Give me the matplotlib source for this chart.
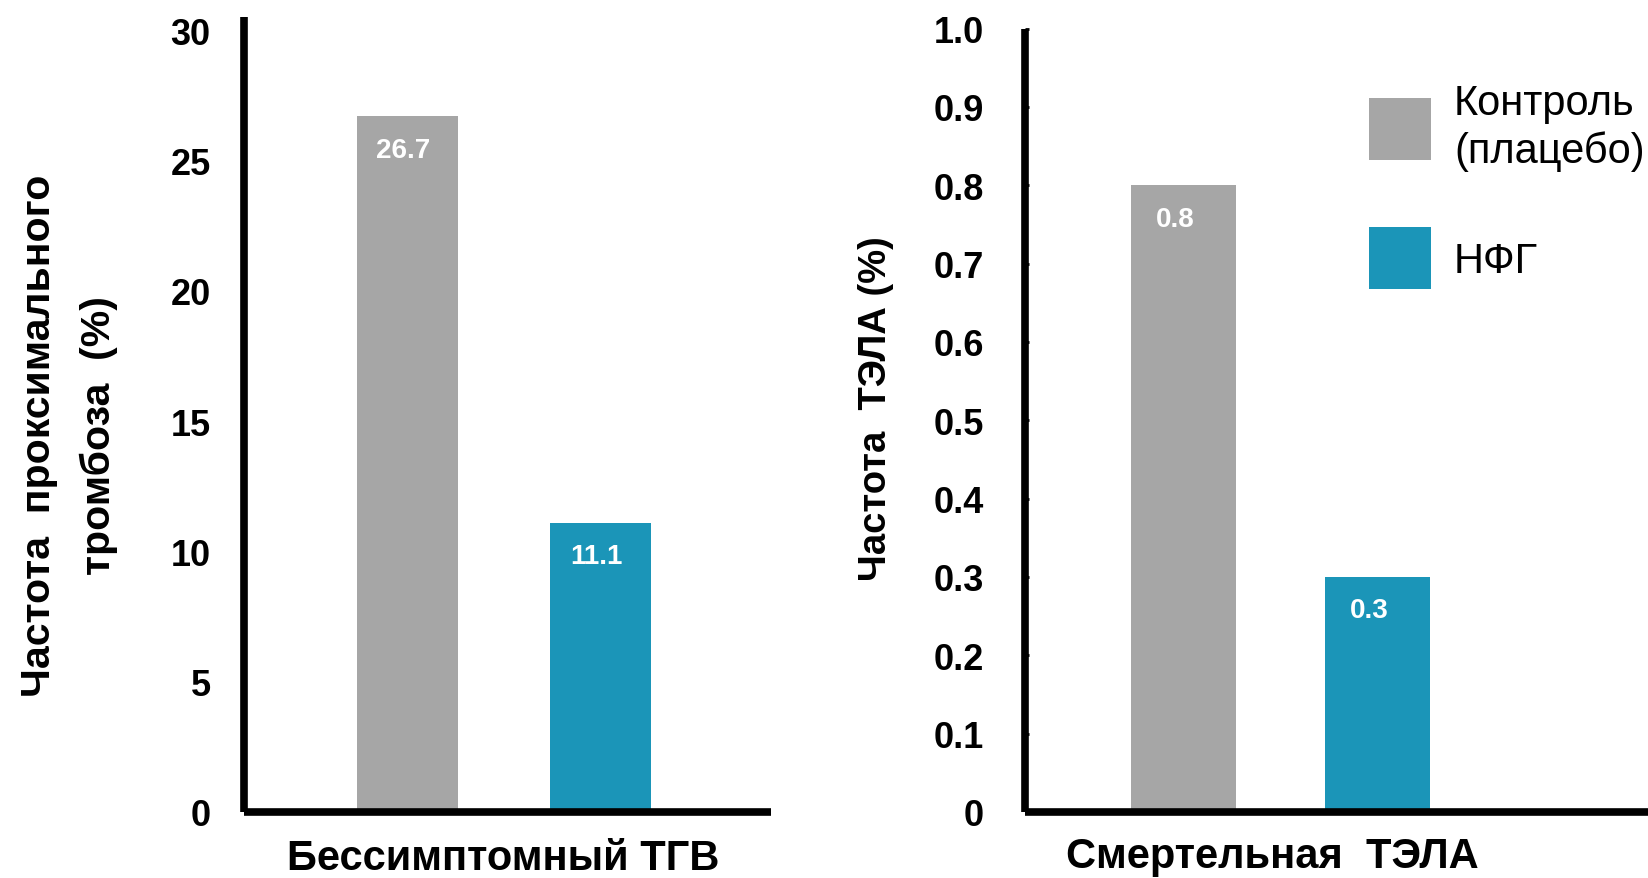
import matplotlib.pyplot as plt

plt.rcParams['font.family'] = ['Liberation Sans', 'DejaVu Sans']
narrow = ['Liberation Sans Narrow', 'Liberation Sans', 'DejaVu Sans']

groups = ["Контроль\n(плацебо)", "НФГ"]
colors = ["#A6A6A6", "#1B95B8"]

dvt_values = [26.7, 11.1]
dvt_labels = ["26.7", "11.1"]
pe_values = [0.8, 0.3]
pe_labels = ["0.8", "0.3"]

left_ticks = [0, 5, 10, 15, 20, 25, 30]
right_ticks = [0, 0.1, 0.2, 0.3, 0.4, 0.5, 0.6, 0.7, 0.8, 0.9, 1.0]
right_ticklabels = ["0", "0.1", "0.2", "0.3", "0.4", "0.5", "0.6", "0.7", "0.8", "0.9", "1.0"]

fig = plt.figure(figsize=(16.49, 8.79), dpi=100)
ax1 = fig.add_axes([0.148, 0.0751, 0.3195, 0.9039])
ax2 = fig.add_axes([0.6218, 0.0751, 0.3782, 0.8913])

for ax in (ax1, ax2):
    for s in ("top", "right"):
        ax.spines[s].set_visible(False)
    for s in ("left", "bottom"):
        ax.spines[s].set_linewidth(5.5)
        ax.spines[s].set_capstyle("butt")
    ax.set_xticks([])

# left panel
x = [0, 1]
ax1.bar(x, dvt_values, width=0.52, color=colors)
ax1.set_xlim(-0.847, 1.883)
ax1.set_ylim(0, 30.5)
ax1.set_yticks(left_ticks)
ax1.set_yticklabels([str(t) for t in left_ticks], fontsize=26, fontweight="bold")
ax1.tick_params(axis="y", length=0, pad=24)
for xi, v, lab in zip(x, dvt_values, dvt_labels):
    ax1.annotate(lab, (xi, v), xytext=(-3, -24), textcoords="offset points",
                 ha="center", va="center", color="white", fontsize=20, fontweight="bold")
ax1.set_ylabel("Частота  проксимального\nтромбоза  (%)", fontsize=29.5, fontweight="bold",
               linespacing=1.7)
ax1.yaxis.set_label_coords(-0.24, 0.4745)
ax1.set_xlabel("Бессимптомный ТГВ", fontsize=30, fontweight="bold")
ax1.xaxis.set_label_coords(0.491, -0.033)

# right panel
bars = ax2.bar(x, pe_values, width=0.54, color=colors)
ax2.set_xlim(-0.811, 2.395)
ax2.set_ylim(0, 1.0)
ax2.set_yticks(right_ticks)
ax2.set_yticklabels(right_ticklabels, fontsize=26, fontweight="bold", family=narrow)
ax2.tick_params(axis="y", length=3, width=2, direction="in", pad=30)
for xi, v, lab in zip(x, pe_values, pe_labels):
    ax2.annotate(lab, (xi, v), xytext=(-6, -24), textcoords="offset points",
                 ha="center", va="center", color="white", fontsize=20, fontweight="bold",
                 family=narrow)
ax2.set_ylabel("Частота  ТЭЛА (%)", fontsize=27.5, fontweight="bold")
ax2.yaxis.set_label_coords(-0.21, 0.516)
ax2.set_xlabel("Смертельная  ТЭЛА", fontsize=30, fontweight="bold")
ax2.xaxis.set_label_coords(0.396, -0.031)

leg = ax2.legend(handles=list(bars), labels=groups, loc="upper left",
                 bbox_to_anchor=(0.830, 0.905), bbox_transform=fig.transFigure,
                 frameon=False, borderpad=0, borderaxespad=0,
                 handlelength=1.5, handleheight=1.9, handletextpad=0.55,
                 labelspacing=1.35, prop={"family": narrow, "size": 30})
for t in leg.get_texts():
    t.set_linespacing(1.25)

fig.savefig("out.png", dpi=100)
